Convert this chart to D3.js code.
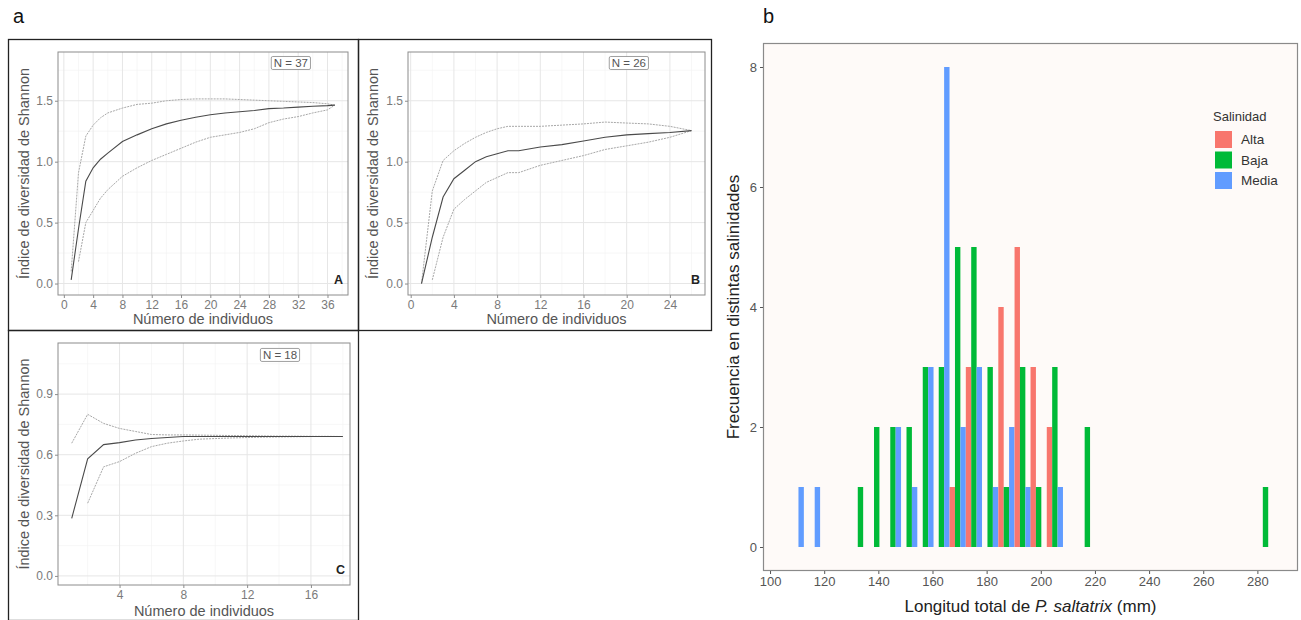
<!DOCTYPE html>
<html><head><meta charset="utf-8">
<script src="https://cdn.jsdelivr.net/npm/d3@7"></script>
<style>
body{margin:0;background:#fff;}
svg{display:block;font-family:"Liberation Sans",Arial,Helvetica,sans-serif;}
</style></head><body>
<svg id="c" width="1301" height="620"></svg>
<script>
// ---------- Panel A (N = 37) ----------
const aX    = [1,2,3,4,5,6,8,10,12,14,16,18,20,22,24,26,28,30,32,34,36,37];
const aMean = [0.03,0.45,0.84,0.95,1.02,1.07,1.165,1.22,1.27,1.31,1.34,1.365,1.385,1.40,1.41,1.42,1.435,1.44,1.448,1.455,1.46,1.464];
const aUp   = [0.10,0.91,1.21,1.30,1.36,1.40,1.44,1.47,1.48,1.50,1.51,1.515,1.515,1.515,1.51,1.505,1.50,1.495,1.49,1.485,1.475,1.464];
const aLo   = [null,0.18,0.50,0.60,0.70,0.77,0.88,0.95,1.01,1.06,1.11,1.16,1.20,1.22,1.24,1.27,1.32,1.35,1.37,1.40,1.425,1.464];
const aXTicks = [0,4,8,12,16,20,24,28,32,36];
const aYTicks = [0,0.5,1,1.5];

// ---------- Panel B (N = 26) ----------
const bX    = [1,2,3,4,5,6,7,8,9,10,12,14,16,18,20,22,24,26];
const bMean = [0,0.38,0.71,0.86,0.93,1.0,1.04,1.065,1.09,1.09,1.12,1.14,1.17,1.20,1.22,1.23,1.24,1.255];
const bUp   = [0,0.76,1.01,1.09,1.15,1.20,1.24,1.27,1.29,1.29,1.29,1.30,1.31,1.325,1.317,1.31,1.29,1.255];
const bLo   = [null,0.03,0.38,0.61,0.69,0.76,0.83,0.87,0.91,0.91,0.97,1.01,1.05,1.10,1.13,1.16,1.20,1.255];
const bXTicks = [0,4,8,12,16,20,24];
const bYTicks = [0,0.5,1,1.5];

// ---------- Panel C (N = 18) ----------
const cX    = [1,2,3,4,5,6,7,8,9,10,11,12,13,14,15,16,17,18];
const cMean = [0.285,0.58,0.65,0.66,0.673,0.68,0.685,0.69,0.69,0.69,0.69,0.69,0.69,0.69,0.69,0.69,0.69,0.69];
const cUp   = [0.657,0.80,0.755,0.73,0.715,0.70,0.698,0.698,0.697,0.696,0.695,0.694,0.693,0.692,0.692,0.691,0.691,0.69];
const cLo   = [null,0.36,0.54,0.566,0.607,0.64,0.657,0.668,0.677,0.68,0.683,0.685,0.687,0.688,0.689,0.69,0.69,0.69];
const cXTicks = [4,8,12,16];
const cYTicks = [0,0.3,0.6,0.9];

// ---------- Panel b: histogram ----------
const binCenters = [109.5,115.5,133.4,139.4,145.4,151.4,157.4,163.3,169.3,175.3,181.3,187.3,193.3,199.2,205.2,217.2,283.0];
const binWidth = 5.98;
const salinidad = ["Alta","Baja","Media"];
const alta  = [0,0,0,0,0,0,0,0,1,3,0,4,5,3,2,0,0];
const baja  = [0,0,1,2,2,2,3,3,5,5,3,1,3,1,3,2,1];
const media = [1,1,0,0,2,1,3,8,2,3,1,2,1,0,1,0,0];
const histXTicks = [100,120,140,160,180,200,220,240,260,280];
const histYTicks = [0,2,4,6,8];
const salColors = ["#F8766D","#00BA38","#619CFF"];

const svg = d3.select("#c");

// panel letters
svg.append("text").attr("x",13).attr("y",23).attr("font-size",20).attr("fill","#111").text("a");
svg.append("text").attr("x",763).attr("y",23).attr("font-size",20).attr("fill","#111").text("b");

function curvePanel(p){
  const g = svg.append("g");
  const x = d3.scaleLinear().domain(p.xd).range([p.x0,p.x1]);
  const y = d3.scaleLinear().domain(p.yd).range([p.y1,p.y0]);
  g.append("rect").attr("x",p.fx0+0.5).attr("y",p.fy0+0.5).attr("width",p.fx1-p.fx0-1).attr("height",p.fy1-p.fy0-1)
    .attr("fill","none").attr("stroke","#222").attr("stroke-width",1.3);
  g.append("rect").attr("x",p.x0).attr("y",p.y0).attr("width",p.x1-p.x0).attr("height",p.y1-p.y0).attr("fill","#fff");
  const xs = p.xt, ys = p.yt;
  const dx = xs[1]-xs[0], dy = ys[1]-ys[0];
  const xMinor = d3.range(xs[0]-dx/2, p.xd[1], dx).filter(v=>v>p.xd[0]&&v<p.xd[1]);
  const yMinor = d3.range(ys[0]-dy/2, p.yd[1], dy).filter(v=>v>p.yd[0]&&v<p.yd[1]);
  const grid = g.append("g");
  grid.selectAll(".vm").data(xMinor).join("line").attr("x1",d=>x(d)).attr("x2",d=>x(d)).attr("y1",p.y0).attr("y2",p.y1)
    .attr("stroke","#f2f2f2").attr("stroke-width",0.6);
  grid.selectAll(".hm").data(yMinor).join("line").attr("y1",d=>y(d)).attr("y2",d=>y(d)).attr("x1",p.x0).attr("x2",p.x1)
    .attr("stroke","#f2f2f2").attr("stroke-width",0.6);
  grid.selectAll(".vM").data(xs).join("line").attr("x1",d=>x(d)).attr("x2",d=>x(d)).attr("y1",p.y0).attr("y2",p.y1)
    .attr("stroke","#e6e6e6").attr("stroke-width",1);
  grid.selectAll(".hM").data(ys).join("line").attr("y1",d=>y(d)).attr("y2",d=>y(d)).attr("x1",p.x0).attr("x2",p.x1)
    .attr("stroke","#e6e6e6").attr("stroke-width",1);
  const line = d3.line().defined(d=>d[1]!=null).x(d=>x(d[0])).y(d=>y(d[1]));
  const mk = arr => p.X.map((v,i)=>[v,arr[i]]);
  g.append("path").attr("d",line(mk(p.up))).attr("fill","none").attr("stroke","#a8a8a8").attr("stroke-width",1).attr("stroke-dasharray","2,1");
  g.append("path").attr("d",line(mk(p.lo))).attr("fill","none").attr("stroke","#a8a8a8").attr("stroke-width",1).attr("stroke-dasharray","2,1");
  g.append("path").attr("d",line(mk(p.mean))).attr("fill","none").attr("stroke","#4a4a4a").attr("stroke-width",1.1);
  g.append("rect").attr("x",p.x0).attr("y",p.y0).attr("width",p.x1-p.x0).attr("height",p.y1-p.y0)
    .attr("fill","none").attr("stroke","#8c8c8c").attr("stroke-width",1);
  const ax = g.append("g").attr("transform",`translate(0,${p.y1})`).call(d3.axisBottom(x).tickValues(xs).tickSize(3).tickPadding(2).tickFormat(d3.format("d")));
  const ay = g.append("g").attr("transform",`translate(${p.x0},0)`).call(d3.axisLeft(y).tickValues(ys).tickSize(3).tickPadding(2).tickFormat(d3.format(".1f")));
  [ax,ay].forEach(a=>{
    a.select(".domain").remove();
    a.selectAll("line").attr("stroke","#8c8c8c");
    a.selectAll("text").attr("fill","#7a7a7a").attr("font-size",12).attr("font-family","Liberation Sans, Arial, sans-serif");
  });
  g.append("text").attr("x",(p.x0+p.x1)/2).attr("y",p.xtY).attr("text-anchor","middle").attr("font-size",14.5).attr("fill","#555").text("Número de individuos");
  g.append("text").attr("transform",`translate(${p.ytX},${(p.y0+p.y1)/2}) rotate(-90)`).attr("text-anchor","middle").attr("dy","0.35em")
    .attr("font-size",14.5).attr("fill","#555").text("Índice de diversidad de Shannon");
  const lt = g.append("text").attr("x",x(p.nx)).attr("y",y(p.ny)).attr("text-anchor","middle").attr("dy","0.35em")
    .attr("font-size",11.5).attr("fill","#555").text(p.nText);
  const bb = lt.node().getBBox();
  g.insert("rect", () => lt.node()).attr("x",bb.x-2.5).attr("y",bb.y-0.5).attr("width",bb.width+5).attr("height",bb.height+1)
    .attr("rx",1.5).attr("fill","#fff").attr("stroke","#888").attr("stroke-width",0.8);
  g.append("text").attr("x",p.x1-5).attr("y",p.y1-11).attr("text-anchor","end").attr("font-size",12.5).attr("font-weight","bold").attr("fill","#222").text(p.letter);
}

curvePanel({X:aX,mean:aMean,up:aUp,lo:aLo,xt:aXTicks,yt:aYTicks,xd:[-0.8,38.8],yd:[-0.094,1.9],
  x0:58,x1:348,y0:52,y1:295,fx0:8,fx1:359,fy0:39,fy1:331,xtY:324,ytX:24,nx:31,ny:1.81,nText:"N = 37",letter:"A"});
curvePanel({X:bX,mean:bMean,up:bUp,lo:bLo,xt:bXTicks,yt:bYTicks,xd:[-0.25,27.25],yd:[-0.094,1.9],
  x0:408,x1:705,y0:52,y1:295,fx0:358,fx1:712,fy0:39,fy1:331,xtY:324,ytX:373,nx:20.2,ny:1.81,nText:"N = 26",letter:"B"});
curvePanel({X:cX,mean:cMean,up:cUp,lo:cLo,xt:cXTicks,yt:cYTicks,xd:[0.14,18.45],yd:[-0.045,1.153],
  x0:58,x1:350,y0:343,y1:585,fx0:8,fx1:359,fy0:330,fy1:621,xtY:616,ytX:24,nx:14.06,ny:1.094,nText:"N = 18",letter:"C"});

// ---------- histogram ----------
(function(){
  const x0=763,x1=1298,y0=43,y1=571;
  const x = d3.scaleLinear().domain([97.4,295]).range([x0,x1]);
  const y = d3.scaleLinear().domain([-0.4,8.4]).range([y1,y0]);
  const g = svg.append("g");
  g.append("rect").attr("x",x0).attr("y",y0).attr("width",x1-x0).attr("height",y1-y0).attr("fill","#fefaf8");
  const series = [alta,baja,media];
  const rows = [];
  binCenters.forEach((c,i)=>series.forEach((s,k)=>{ if(s[i]>0) rows.push({c,k,v:s[i]}); }));
  const w3 = binWidth/3;
  g.selectAll("rect.bar").data(rows).join("rect").attr("class","bar")
    .attr("x",d=>x(d.c-binWidth/2+d.k*w3)).attr("width",d=>x(d.c-binWidth/2+(d.k+1)*w3)-x(d.c-binWidth/2+d.k*w3))
    .attr("y",d=>y(d.v)).attr("height",d=>y(0)-y(d.v)).attr("fill",d=>salColors[d.k]);
  g.append("rect").attr("x",x0+0.5).attr("y",y0+0.5).attr("width",x1-x0-1).attr("height",y1-y0-1)
    .attr("fill","none").attr("stroke","#8a8a8a").attr("stroke-width",1.2);
  const ax = g.append("g").attr("transform",`translate(0,${y1})`).call(d3.axisBottom(x).tickValues(histXTicks).tickSize(3).tickPadding(3));
  const ay = g.append("g").attr("transform",`translate(${x0},0)`).call(d3.axisLeft(y).tickValues(histYTicks).tickSize(3).tickPadding(3));
  [ax,ay].forEach(a=>{
    a.select(".domain").remove();
    a.selectAll("line").attr("stroke","#555");
    a.selectAll("text").attr("fill","#555").attr("font-size",13).attr("font-family","Liberation Sans, Arial, sans-serif");
  });
  const xt = g.append("text").attr("x",(x0+x1)/2).attr("y",612).attr("text-anchor","middle").attr("font-size",17).attr("fill","#222");
  xt.append("tspan").text("Longitud total de ");
  xt.append("tspan").attr("font-style","italic").text("P. saltatrix");
  xt.append("tspan").text(" (mm)");
  g.append("text").attr("transform",`translate(733,${(y0+y1)/2}) rotate(-90)`).attr("text-anchor","middle").attr("dy","0.35em")
    .attr("font-size",17).attr("fill","#222").text("Frecuencia en distintas salinidades");
  const lg = g.append("g").attr("transform","translate(1213,0)");
  lg.append("text").attr("x",0).attr("y",121).attr("font-size",13).attr("fill","#333").text("Salinidad");
  salinidad.forEach((s,i)=>{
    lg.append("rect").attr("x",2).attr("y",131+i*20.5).attr("width",17).attr("height",17).attr("fill",salColors[i]);
    lg.append("text").attr("x",28).attr("y",139.5+i*20.5).attr("dy","0.35em").attr("font-size",13.5).attr("fill","#333").text(s);
  });
})();
</script>
</body></html>
